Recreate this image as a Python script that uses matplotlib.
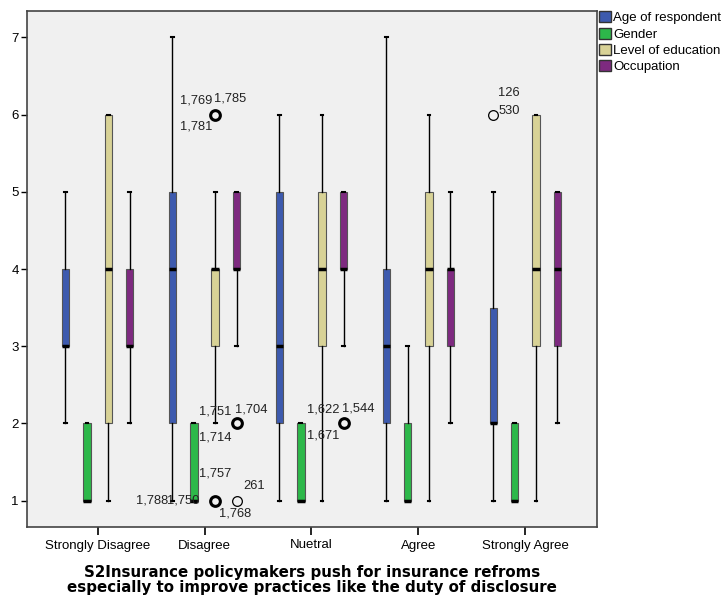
import matplotlib
matplotlib.use("Agg")
import matplotlib.pyplot as plt
from matplotlib.patches import Patch

categories = ["Strongly Disagree", "Disagree", "Nuetral", "Agree", "Strongly Agree"]
series = ["Age of respondent", "Gender", "Level of education", "Occupation"]
colors = ["#3d5aae", "#2db84a", "#d8d296", "#7e2a80"]

# per series, one value per category
whislo = [[2, 1, 1, 1, 1], [1, 1, 1, 1, 1], [1, 2, 1, 1, 1], [2, 3, 3, 2, 2]]
q1 = [[3, 2, 2, 2, 2], [1, 1, 1, 1, 1], [2, 3, 3, 3, 3], [3, 4, 4, 3, 3]]
med = [[3, 4, 3, 3, 2], [1, 1, 1, 1, 1], [4, 4, 4, 4, 4], [3, 4, 4, 4, 4]]
q3 = [[4, 5, 5, 4, 3.5], [2, 2, 2, 2, 2], [6, 4, 5, 5, 6], [4, 5, 5, 4, 5]]
whishi = [[5, 7, 6, 7, 5], [2, 2, 2, 3, 2], [6, 5, 6, 6, 6], [5, 5, 5, 5, 5]]

# outliers: (category, series, value, several cases stacked)
outliers = [
    (1, 2, 6, True), (1, 2, 1, True), (1, 3, 2, True), (1, 3, 1, False),
    (2, 3, 2, True), (4, 0, 6, False),
]
# case labels: (category, series, value, text, dx px, dy px, ha)
case_labels = [
    (1, 2, 6, "1,769", -3, 14, "right"), (1, 2, 6, "1,785", -1, 16, "left"),
    (1, 2, 6, "1,781", -3, -12, "right"),
    (1, 3, 2, "1,751", -5, 12, "right"), (1, 3, 2, "1,704", -2, 14, "left"),
    (1, 3, 2, "1,714", -5, -14, "right"),
    (1, 2, 1, "1,757", -16, 27, "left"), (1, 2, 1, "1,788", -47, 0, "right"),
    (1, 2, 1, "1,750", -16, 0, "right"),
    (1, 3, 1, "261", 7, 15, "left"), (1, 3, 1, "1,768", -18, -13, "left"),
    (2, 3, 2, "1,622", -4, 14, "right"), (2, 3, 2, "1,544", -2, 15, "left"),
    (2, 3, 2, "1,671", -4, -12, "right"),
    (4, 0, 6, "126", 5, 22, "left"), (4, 0, 6, "530", 5, 4, "left"),
]

plt.rcParams['font.family'] = ['Liberation Sans', 'DejaVu Sans']

fig = plt.figure(figsize=(7.26, 5.97), dpi=100)
ax = fig.add_axes([27 / 726, 1 - 527 / 597, 570 / 726, 516 / 597])
ax.set_facecolor("#f0f0f0")

offsets = [-0.3, -0.1, 0.1, 0.3]
width = 0.07

for s in range(len(series)):
    stats = []
    pos = []
    for c in range(len(categories)):
        stats.append({"whislo": whislo[s][c], "q1": q1[s][c], "med": med[s][c],
                      "q3": q3[s][c], "whishi": whishi[s][c], "fliers": []})
        pos.append(c + offsets[s])
    ax.bxp(stats, positions=pos, widths=width, patch_artist=True, showfliers=False,
           boxprops=dict(facecolor=colors[s], edgecolor="#555555", linewidth=0.8),
           medianprops=dict(color="black", linewidth=2.5),
           whiskerprops=dict(color="black", linewidth=1),
           capprops=dict(color="black", linewidth=1.5), capwidths=0.025)

for c, s, v, bold in outliers:
    ax.plot(c + offsets[s], v, "o", mfc="none", mec="black", ms=7,
            mew=2.2 if bold else 0.9)

for c, s, v, txt, dx, dy, ha in case_labels:
    ax.annotate(txt, (c + offsets[s], v), xytext=(dx, dy), textcoords="offset pixels",
                ha=ha, va="center", fontsize=9.3, color="#222222")

ax.set_xlim(-0.66, 4.67)
ax.set_ylim(0.66, 7.34)
ax.set_xticks(range(len(categories)))
ax.set_xticklabels(categories, fontsize=9.5)
ax.set_yticks(range(1, 8))
ax.set_yticklabels([str(i) for i in range(1, 8)], fontsize=9.5)
ax.tick_params(axis="x", length=6, width=1.2, pad=3)
ax.tick_params(axis="y", length=4, width=1, pad=2)
for sp in ax.spines.values():
    sp.set_color("#444444")
    sp.set_linewidth(1.2)

handles = [Patch(facecolor=col, edgecolor="#333333", label=lab) for col, lab in zip(colors, series)]
fig.legend(handles=handles, loc="upper left", bbox_to_anchor=(598 / 726, 1 - 10 / 597),
           frameon=False, fontsize=9.5, handlelength=0.85, handleheight=0.9,
           handletextpad=0.2, labelspacing=0.25, borderpad=0.1, borderaxespad=0)

fig.text(312 / 726, 1 - 580 / 597,
         "S2Insurance policymakers push for insurance refroms\n"
         "especially to improve practices like the duty of disclosure",
         ha="center", va="center", fontsize=10.8, fontweight="bold",
         family="DejaVu Sans", linespacing=1.05)

fig.savefig("out.png", dpi=100)
